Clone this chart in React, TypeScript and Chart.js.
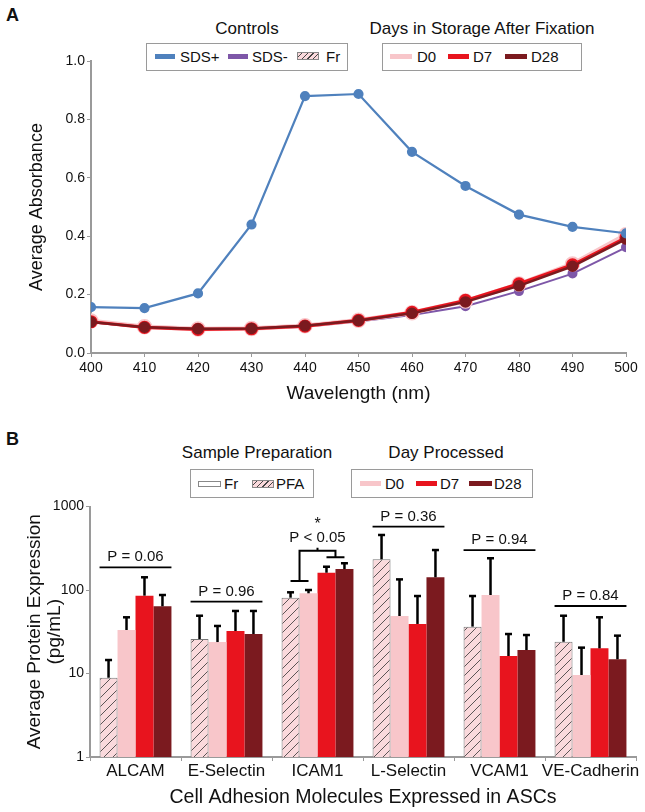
import React, { useEffect, useRef } from 'react';
import { Chart, registerables } from 'chart.js';
Chart.register(...registerables);

// ---------- Panel A data ----------
const wavelengths = [400, 410, 420, 430, 440, 450, 460, 470, 480, 490, 500];
const sdsPlus = [0.157, 0.154, 0.204, 0.44, 0.88, 0.887, 0.689, 0.572, 0.474, 0.432, 0.41];
const sdsMinus = [0.105, 0.087, 0.082, 0.082, 0.09, 0.108, 0.13, 0.16, 0.212, 0.272, 0.362];
const d0Abs = [0.11, 0.09, 0.082, 0.084, 0.093, 0.112, 0.138, 0.178, 0.236, 0.305, 0.405];
const d7Abs = [0.107, 0.088, 0.081, 0.083, 0.092, 0.112, 0.139, 0.18, 0.237, 0.302, 0.395];
const d28Abs = [0.106, 0.088, 0.083, 0.084, 0.093, 0.111, 0.136, 0.175, 0.23, 0.297, 0.39];
const absTickStep = 0.2;

// ---------- Panel B data ----------
const molecules = ['ALCAM', 'E-Selectin', 'ICAM1', 'L-Selectin', 'VCAM1', 'VE-Cadherin'];
const frMean = [8.9, 25.9, 80.9, 233, 36.4, 24.0];
const frErr = [14.5, 49.2, 93.8, 456, 84.7, 49.2];
const d0Mean = [33.2, 23.8, 91.3, 48.8, 87.1, 9.6];
const d0Err = [47.1, 37.1, 100, 134, 240, 20.4];
const d7Mean = [85.5, 32.3, 161, 39.2, 16.2, 20.0];
const d7Err = [142, 56.1, 190, 84.7, 29.7, 47.1];
const d28Mean = [63.8, 29.7, 178, 142, 19.1, 14.8];
const d28Err = [87.1, 56.1, 209, 301, 28.9, 28.4];
const pLabels = ['P = 0.06', 'P = 0.96', '', 'P = 0.36', 'P = 0.94', 'P = 0.84'];
const pLineValues = [187, 72.4, 0, 573, 301, 64.3];
const icamBracketValues = [128, 296, 246]; // left arm, top, right arm
const icamLabel = 'P < 0.05';
const logTicks = [1, 10, 100, 1000];

const FONT = "'Liberation Sans', Arial, sans-serif";
const C_BLUE = '#4F81BD';
const C_PURPLE = '#7E57A8';
const C_D0 = '#F8C6CA';
const C_D7 = '#E8141E';
const C_D28 = '#7B1A1F';
const AXIS = '#9a9a9a';

function makeHatch(): CanvasPattern | string {
  const c = document.createElement('canvas');
  c.width = 9; c.height = 9;
  const g = c.getContext('2d');
  if (!g) return '#FAD9DC';
  g.fillStyle = '#FAD9DC';
  g.fillRect(0, 0, 9, 9);
  g.strokeStyle = '#333';
  g.lineWidth = 0.8;
  g.beginPath();
  g.moveTo(0, 9); g.lineTo(9, 0);
  g.moveTo(-1, 1); g.lineTo(1, -1);
  g.moveTo(8, 10); g.lineTo(10, 8);
  g.stroke();
  const p = g.createPattern(c, 'repeat');
  return p || '#FAD9DC';
}

const T = ({ x, y, s, children, center = false, bold = false }: any) => (
  <div style={{
    position: 'absolute', left: x, top: y - s * 0.6, fontSize: s, lineHeight: `${s * 1.2}px`,
    whiteSpace: 'nowrap', transform: center ? 'translateX(-50%)' : undefined,
    fontWeight: bold ? 'bold' : 'normal', color: '#111', fontFamily: FONT,
  }}>{children}</div>
);
const Box = ({ x, y, w, h }: any) => (
  <div style={{ position: 'absolute', left: x, top: y, width: w, height: h, border: `1px solid ${AXIS}`, boxSizing: 'border-box' }} />
);
const Sw = ({ x, y, w, h, bg, border }: any) => (
  <div style={{ position: 'absolute', left: x, top: y, width: w, height: h, background: bg, border: border || 'none', boxSizing: 'border-box' }} />
);
const HATCH_CSS = 'repeating-linear-gradient(-45deg, #FAD9DC 0px, #FAD9DC 3px, #444 3px, #444 4px)';

export default function App() {
  const topRef = useRef<HTMLCanvasElement>(null);
  const botRef = useRef<HTMLCanvasElement>(null);

  useEffect(() => {
    Chart.defaults.font.family = FONT;
    Chart.defaults.color = '#111';
    const toPts = (arr: number[]) => arr.map((v, i) => ({ x: wavelengths[i], y: v }));

    const top = new Chart(topRef.current!, {
      type: 'line',
      data: {
        datasets: [
          { label: 'SDS+', data: toPts(sdsPlus), borderColor: C_BLUE, backgroundColor: C_BLUE, borderWidth: 2.2, pointRadius: 4, pointHoverRadius: 4, order: 0 },
          { label: 'D28', data: toPts(d28Abs), borderColor: C_D28, backgroundColor: C_D28, borderWidth: 2.5, pointRadius: 4.5, order: 1 },
          { label: 'D7', data: toPts(d7Abs), borderColor: C_D7, backgroundColor: C_D7, borderWidth: 3.2, pointRadius: 5, order: 2 },
          { label: 'D0', data: toPts(d0Abs), borderColor: C_D0, backgroundColor: C_D0, borderWidth: 4.5, pointRadius: 5.5, order: 3 },
          { label: 'SDS-', data: toPts(sdsMinus), borderColor: C_PURPLE, backgroundColor: C_PURPLE, borderWidth: 2, pointRadius: 4, order: 4 },
        ],
      },
      options: {
        responsive: false,
        animation: false,
        layout: { padding: { top: 61, right: 19, left: 0, bottom: 0 } },
        plugins: { legend: { display: false }, tooltip: { enabled: false } },
        scales: {
          x: {
            type: 'linear', min: 400, max: 500,
            ticks: { stepSize: 10, font: { size: 14 }, padding: 3, color: '#111', callback: (v: any) => String(v) },
            grid: { drawOnChartArea: false, drawTicks: true, tickLength: 4, color: AXIS },
            border: { color: AXIS, width: 2 },
            title: { display: true, text: 'Wavelength (nm)', font: { size: 19 }, padding: { top: 0, bottom: 5 }, color: '#111' },
            afterFit: (s: any) => { s.height = 57; },
          },
          y: {
            min: 0, max: 1,
            ticks: { stepSize: absTickStep, font: { size: 14 }, padding: 2, color: '#111', callback: (v: any) => Number(v).toFixed(1) },
            grid: { drawOnChartArea: false, drawTicks: true, tickLength: 4, color: AXIS },
            border: { color: AXIS, width: 2 },
            title: { display: true, text: 'Average Absorbance', font: { size: 18 }, padding: { top: 26, bottom: 0 }, color: '#111' },
            afterFit: (s: any) => { s.width = 91; },
          },
        },
      },
    });

    const hatch = makeHatch();
    const errs = [frErr, d0Err, d7Err, d28Err];
    const annot = {
      id: 'annot',
      afterDatasetsDraw(chart: any) {
        const ctx = chart.ctx;
        const ys = chart.scales.y;
        const metas = [0, 1, 2, 3].map((i) => chart.getDatasetMeta(i));
        ctx.save();
        ctx.strokeStyle = '#000';
        ctx.lineCap = 'butt';
        ctx.lineWidth = 2.5;
        metas.forEach((m: any, i: number) => m.data.forEach((el: any, j: number) => {
          const yt = ys.getPixelForValue(errs[i][j]);
          ctx.beginPath(); ctx.moveTo(el.x, el.y); ctx.lineTo(el.x, yt); ctx.stroke();
          ctx.beginPath(); ctx.moveTo(el.x - 3.5, yt); ctx.lineTo(el.x + 3.5, yt); ctx.stroke();
        }));
        ctx.lineWidth = 1.8;
        ctx.fillStyle = '#111';
        ctx.font = `15px ${FONT}`;
        ctx.textAlign = 'center';
        ctx.textBaseline = 'middle';
        pLabels.forEach((lab, j) => {
          if (!lab) return;
          const a = metas[0].data[j]; const b = metas[3].data[j];
          const l = a.x - a.width / 2; const r = b.x + b.width / 2;
          const py = ys.getPixelForValue(pLineValues[j]);
          ctx.beginPath(); ctx.moveTo(l, py); ctx.lineTo(r, py); ctx.stroke();
          ctx.fillText(lab, (l + r) / 2, py - 10);
        });
        const j = 2;
        const x1 = metas[0].data[j].x, x2 = metas[1].data[j].x, x3 = metas[2].data[j].x, x4 = metas[3].data[j].x;
        const yl = ys.getPixelForValue(icamBracketValues[0]);
        const yh = ys.getPixelForValue(icamBracketValues[1]);
        const yr = ys.getPixelForValue(icamBracketValues[2]);
        const ml = (x1 + x2) / 2, mr = (x3 + x4) / 2, mm = (ml + mr) / 2;
        ctx.lineWidth = 2;
        ctx.beginPath();
        ctx.moveTo(x1, yl); ctx.lineTo(x2, yl);
        ctx.moveTo(ml, yl); ctx.lineTo(ml, yh); ctx.lineTo(mr, yh); ctx.lineTo(mr, yr);
        ctx.moveTo(x3, yr); ctx.lineTo(x4, yr);
        ctx.moveTo(mm, yh); ctx.lineTo(mm, yh - 3);
        ctx.stroke();
        ctx.fillText(icamLabel, mm, yh - 13);
        ctx.font = `16px ${FONT}`;
        ctx.fillText('*', mm, yh - 26);
        ctx.restore();
      },
    };

    const bot = new Chart(botRef.current!, {
      type: 'bar',
      data: {
        labels: molecules,
        datasets: [
          { label: 'Fr', data: frMean, backgroundColor: hatch as any, borderColor: '#777', borderWidth: 1 },
          { label: 'D0', data: d0Mean, backgroundColor: C_D0, borderWidth: 0 },
          { label: 'D7', data: d7Mean, backgroundColor: C_D7, borderWidth: 0 },
          { label: 'D28', data: d28Mean, backgroundColor: C_D28, borderWidth: 0 },
        ],
      },
      plugins: [annot],
      options: {
        responsive: false,
        animation: false,
        layout: { padding: { top: 86.5, right: 9, left: 0, bottom: 0 } },
        datasets: { bar: { categoryPercentage: 0.79, barPercentage: 1.0 } },
        plugins: { legend: { display: false }, tooltip: { enabled: false } },
        scales: {
          x: {
            ticks: { font: { size: 17 }, padding: 0, maxRotation: 0, autoSkip: false, color: '#111' },
            grid: { drawOnChartArea: false, drawTicks: true, tickLength: 4, color: AXIS, offset: true },
            border: { color: AXIS, width: 2 },
            title: { display: true, text: 'Cell Adhesion Molecules Expressed in ASCs', font: { size: 19.5 }, padding: { top: 0, bottom: 3 }, color: '#111' },
            afterFit: (s: any) => { s.height = 55; },
          },
          y: {
            type: 'logarithmic', min: 1, max: 1000,
            afterBuildTicks: (s: any) => { s.ticks = logTicks.map((v) => ({ value: v })); },
            ticks: { font: { size: 14 }, padding: 2, color: '#111', callback: (v: any) => String(v) },
            grid: { drawOnChartArea: false, drawTicks: true, tickLength: 4, color: AXIS },
            border: { color: AXIS, width: 2 },
            title: { display: true, text: ['Average Protein Expression', '(pg/mL)'], font: { size: 19, lineHeight: 1.05 }, padding: { top: 25, bottom: 0 }, color: '#111' },
            afterFit: (s: any) => { s.width = 90; },
          },
        },
      },
    });

    return () => { top.destroy(); bot.destroy(); };
  }, []);

  return (
    <div style={{ position: 'absolute', left: 0, top: 0, width: 645, height: 812, background: '#fff', fontFamily: FONT }}>
      <T x={6} y={16} s={18} bold>A</T>
      <T x={247} y={29} s={17} center>Controls</T>
      <Box x={146} y={43} w={202} h={28} />
      <Sw x={155} y={54} w={20} h={5} bg={C_BLUE} />
      <T x={180} y={57} s={15}>SDS+</T>
      <Sw x={228} y={54} w={20} h={5} bg={C_PURPLE} />
      <T x={252} y={57} s={15}>SDS-</T>
      <Sw x={297} y={52} w={22} h={8} bg={HATCH_CSS} border="1px solid #888" />
      <T x={326} y={57} s={15}>Fr</T>
      <T x={482} y={29} s={17} center>Days in Storage After Fixation</T>
      <Box x={382} y={43} w={200} h={28} />
      <Sw x={390} y={54} w={22} h={5} bg={C_D0} />
      <T x={417} y={57} s={15}>D0</T>
      <Sw x={448} y={54} w={21} h={5} bg={C_D7} />
      <T x={473} y={57} s={15}>D7</T>
      <Sw x={505} y={54} w={22} h={5} bg={C_D28} />
      <T x={531} y={57} s={15}>D28</T>

      <canvas ref={topRef} width={645} height={410} style={{ position: 'absolute', left: 0, top: 0, width: 645, height: 410 }} />

      <T x={6} y={440} s={18} bold>B</T>
      <T x={257} y={453} s={17} center>Sample Preparation</T>
      <Box x={190} y={469} w={124} h={29} />
      <Sw x={198} y={481} w={23} h={6} bg="#fff" border="1px solid #888" />
      <T x={224} y={484} s={15}>Fr</T>
      <Sw x={252} y={480} w={22} h={8} bg={HATCH_CSS} border="1px solid #888" />
      <T x={276} y={484} s={15}>PFA</T>
      <T x={446} y={453} s={17} center>Day Processed</T>
      <Box x={351} y={469} w={182} h={29} />
      <Sw x={360} y={481} w={21} h={5} bg={C_D0} />
      <T x={385} y={484} s={15}>D0</T>
      <Sw x={416} y={481} w={21} h={5} bg={C_D7} />
      <T x={440} y={484} s={15}>D7</T>
      <Sw x={469} y={481} w={23} h={5} bg={C_D28} />
      <T x={494} y={484} s={15}>D28</T>

      <canvas ref={botRef} width={645} height={392} style={{ position: 'absolute', left: 0, top: 420, width: 645, height: 392 }} />
    </div>
  );
}
